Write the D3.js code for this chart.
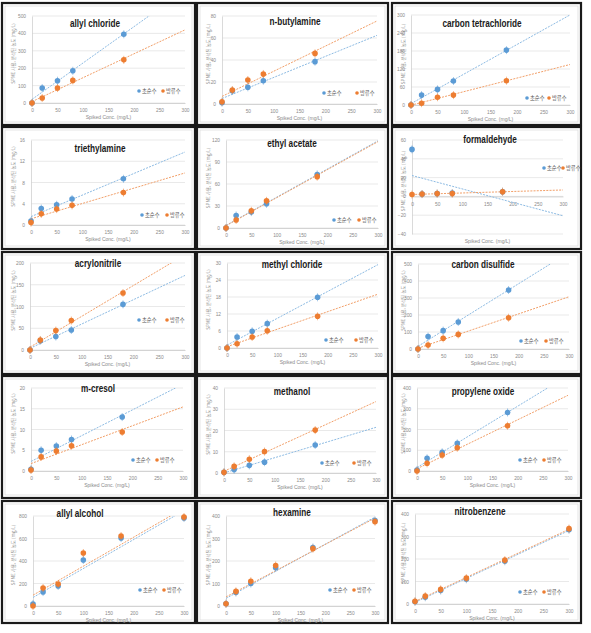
<!DOCTYPE html>
<html><head><meta charset="utf-8">
<script src="https://cdn.jsdelivr.net/npm/d3@7"></script>
<style>
body{margin:0;background:#fff;}
svg{display:block;}
</style></head>
<body>
<svg id="chart" width="591" height="633"></svg>
<script>
// ---------------- DATA ----------------
const panelNames = ["allyl chloride","n-butylamine","carbon tetrachloride",
  "triethylamine","ethyl acetate","formaldehyde",
  "acrylonitrile","methyl chloride","carbon disulfide",
  "m-cresol","methanol","propylene oxide",
  "allyl alcohol","hexamine","nitrobenzene"];
const seriesNames = ["초순수","방류수"];
const xAxisTitle = "Spiked Conc. (mg/L)";
const yAxisTitle = "SPME 사용, 분석된 농도 (mg/L)";
const xTickValues = [0,50,100,150,200,250,300];
const spikedA = [0,20,50,80,180];
const spikedB = [0,20,50,100,175,300];
const spikedPerPanel = [spikedA,spikedA,spikedA,spikedA,spikedA,spikedA,spikedA,spikedA,spikedA,spikedA,spikedA,spikedA,spikedB,spikedB,spikedB];
const ultrapureValues = [
  [0,86,128,185,395],
  [1.2,12,15.2,21.2,38.5],
  [0,33,52,80,183],
  [0.75,3.1,3.8,4.9,8.7],
  [0,17,21.7,33,73],
  [50,2.5,3,3.5,5],
  [0,21.5,31,46,105],
  [0,3.9,5.9,8.6,17.9],
  [0,73,108,159,347],
  [0.4,5,6,7.6,13],
  [0.3,1.6,3.6,5.1,13.2],
  [5,61,90,133,282],
  [18,124,178,409,604,782],
  [10,60,100,170,260,380],
  [10,30,60,110,190,330]
];
const effluentValues = [
  [0,29,86,130,248],
  [2.1,12.7,21.8,27.3,46],
  [0,6,26,33,81],
  [0.45,2.1,3.0,3.7,6.1],
  [0,11,23.5,37,70],
  [2,2.5,3,3,5],
  [0,23,44.6,67.7,131],
  [0,1.5,3.9,6.1,11.2],
  [0,23,63,86,184],
  [0.25,3.4,4.8,6.1,9.4],
  [0.3,3.1,6.5,10.1,20.2],
  [0,37,77,112,218],
  [0,160,196,471,622,791],
  [10,65,110,180,255,375],
  [12,35,65,115,195,335]
];
const yTickValues = [
  [0,100,200,300,400,500],
  [0,20,40,60,80],
  [0,60,120,180,240,300],
  [0,4,8,12,16],
  [0,30,60,90,120],
  [-40,-20,0,20,40,60],
  [0,50,100,150,200],
  [0,6,12,18,24,30],
  [0,100,200,300,400,500],
  [0,5,10,15,20],
  [0,10,20,30,40],
  [0,100,200,300,400],
  [0,200,400,600,800],
  [0,100,200,300,400],
  [0,100,200,300,400]
];

// ---------------- LAYOUT ----------------
const frameX = [2,197,392], frameW = [193,191,189];
const frameY = [3,127,252,376,501], frameH = 122;
// plot boxes: [xLeft, xRight, yTop, yBottom]
const plotBoxes = [
  [32,185,16,103],[222,377,16,104],[411,570,15,105],
  [31,185,140,225],[226,378,140,228],[412,563,140,234],
  [30,185,263,350],[227,378,263,348],[418,569,264,349],
  [31,183,388,471],[224,376,388,473],[417,568,388,471],
  [33,184,516,606],[226,375,516,606],[415,569,514,604]
];
const titlePos = [[95,27],[295,25],[482,27],[100,152],[292,147],[490,143],
  [98,267],[292,268],[483,268],[98,392],[292,395],[483,395],[80,517],[292,516],[480,515]];
const legendPos = [[139,91],[324,93],[527,98],[142,215],[334,220],[544,168],
  [139,320],[326,340],[521,341],[133,460],[322,463],[520,460],[140,590],[330,590],[520,592]];
const legendGap = [24,33,22,25,25,19,28,30,25,24,32,24,24,24,24];

const blue = "#5B9BD5", orange = "#ED7D31";
const blueLine = "#8DBBE3", orangeLine = "#F2A06A";

const svg = d3.select("#chart");

function linreg(xs, ys){
  const n = xs.length, mx = d3.mean(xs), my = d3.mean(ys);
  let sxy=0, sxx=0;
  for(let i=0;i<n;i++){ sxy += (xs[i]-mx)*(ys[i]-my); sxx += (xs[i]-mx)**2; }
  const m = sxy/sxx; return {m, b: my - m*mx};
}

panelNames.forEach((name, i) => {
  const r = Math.floor(i/3), c = i%3;
  const g = svg.append("g");
  // frame
  g.append("rect").attr("x",frameX[c]).attr("y",frameY[r]).attr("width",frameW[c]).attr("height",frameH)
    .attr("fill","#fff").attr("stroke","#1a1a1a").attr("stroke-width",2.2);
  g.append("rect").attr("x",frameX[c]+3).attr("y",frameY[r]+3).attr("width",frameW[c]-6).attr("height",frameH-6)
    .attr("fill","none").attr("stroke","#d9d9d9").attr("stroke-width",0.7);

  const [xl,xr,yt,yb] = plotBoxes[i];
  const yt0 = yTickValues[i];
  const x = d3.scaleLinear().domain([0,300]).range([xl,xr]);
  const y = d3.scaleLinear().domain([d3.min(yt0), d3.max(yt0)]).range([yb,yt]);

  // gridlines
  g.append("g").selectAll("line").data(yt0).join("line")
    .attr("x1",xl).attr("x2",xr).attr("y1",d=>y(d)).attr("y2",d=>y(d))
    .attr("stroke","#e3e3e3").attr("stroke-width",0.8);
  // y axis
  const ya = g.append("g").attr("transform",`translate(${xl},0)`)
    .call(d3.axisLeft(y).tickValues(yt0).tickSize(0).tickPadding(6));
  ya.select(".domain").attr("stroke","#d0d0d0").attr("stroke-width",0.8);
  ya.selectAll("text").attr("font-size",4.8).attr("fill","#8a8a8a").attr("font-family","Liberation Sans, Arial, sans-serif");
  // x axis at y=0
  const y0 = y(0);
  const xa = g.append("g").attr("transform",`translate(0,${y0})`)
    .call(d3.axisBottom(x).tickValues(xTickValues).tickSize(0).tickPadding(6));
  xa.select(".domain").attr("stroke","#cfcfcf").attr("stroke-width",0.9);
  xa.selectAll("text").attr("font-size",4.8).attr("fill","#8a8a8a").attr("font-family","Liberation Sans, Arial, sans-serif");
  // x title
  g.append("text").attr("x",(xl+xr)/2).attr("y",i===5 ? yb+9 : yb+16).attr("text-anchor","middle")
    .attr("font-size",5).attr("fill","#8a8a8a").attr("font-family","Liberation Sans, Arial, sans-serif")
    .text(xAxisTitle);
  // y title
  g.append("text").attr("transform",`translate(${frameX[c]+13},${(yt+yb)/2-6}) rotate(-90)`)
    .attr("text-anchor","middle").attr("font-size",4.5).attr("fill","#8a8a8a")
    .attr("font-family","Noto Sans CJK KR, sans-serif").text(yAxisTitle);

  // trend lines & points
  const xs = spikedPerPanel[i];
  const series = [
    {vals: ultrapureValues[i], col: blue, lcol: blueLine},
    {vals: effluentValues[i], col: orange, lcol: orangeLine}
  ];
  const clipId = "clip"+i;
  g.append("clipPath").attr("id",clipId).append("rect")
    .attr("x",xl).attr("y",yt).attr("width",xr-xl).attr("height",yb-yt);
  series.forEach(s => {
    const {m,b} = linreg(xs, s.vals);
    g.append("line").attr("clip-path",`url(#${clipId})`)
      .attr("x1",x(0)).attr("y1",y(b)).attr("x2",x(300)).attr("y2",y(b+m*300))
      .attr("stroke",s.lcol).attr("stroke-width",1).attr("stroke-dasharray","2,1.2");
  });
  series.forEach(s => {
    const pts = g.append("g");
    pts.selectAll("line").data(s.vals).join("line")
      .attr("x1",(d,k)=>x(xs[k])).attr("x2",(d,k)=>x(xs[k]))
      .attr("y1",d=>y(d)-4).attr("y2",d=>y(d)+4)
      .attr("stroke",s.col).attr("stroke-width",0.8).attr("opacity",0.7);
    pts.selectAll("circle").data(s.vals).join("circle")
      .attr("cx",(d,k)=>x(xs[k])).attr("cy",d=>y(d)).attr("r",2.8)
      .attr("fill",s.col);
  });

  // title (condensed)
  g.append("text").attr("transform",`translate(${titlePos[i][0]},${titlePos[i][1]}) scale(0.78,1)`)
    .attr("text-anchor","middle")
    .attr("font-size",10.5).attr("font-weight","bold").attr("fill","#1a1a1a")
    .attr("font-family","Liberation Sans, Arial, sans-serif")
    .text(name);

  // legend
  const [lx,ly] = legendPos[i];
  [blue, orange].forEach((col, k) => {
    const ox = lx + k*legendGap[i];
    g.append("circle").attr("cx",ox).attr("cy",ly).attr("r",1.8).attr("fill",col);
    g.append("text").attr("x",ox+3).attr("y",ly+2).attr("font-size",5.3).attr("fill","#555")
      .attr("font-family","Noto Sans CJK KR, sans-serif").text(seriesNames[k]);
  });
});
</script>
</body></html>
